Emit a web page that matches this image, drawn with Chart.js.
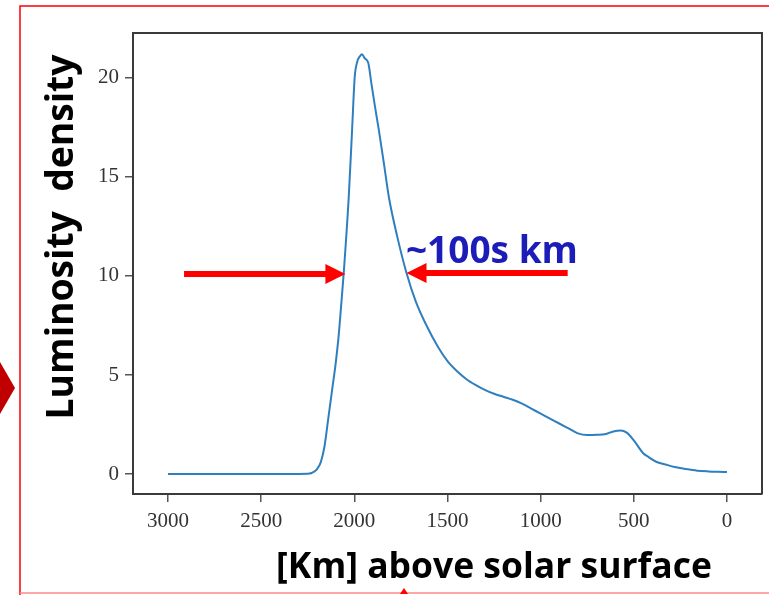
<!DOCTYPE html>
<html><head><meta charset="utf-8">
<script src="https://cdn.jsdelivr.net/npm/chart.js@4"></script>
<style>html,body{margin:0;padding:0;background:#fff}#wrap{width:769px;height:595px}</style>
</head><body><div id="wrap"><canvas id="c" width="769" height="595"></canvas></div>
<script>
// ---- data ----
const heightKm = [3000,2800,2600,2400,2300,2240,2230,2200,2180,2160,2140,2120,2100,2085,2070,2057,2030,2012,1998,1985,1970,1959,1945,1925,1909,1890,1869,1840,1815,1770,1720,1670,1618,1550,1500,1450,1400,1350,1300,1250,1200,1150,1100,1050,1000,950,900,850,800,750,700,650,610,570,540,500,450,420,380,330,280,220,160,100,50,0];
const luminosity = [0,0,0,0,0,0.02,0.05,0.25,0.6,1.4,2.8,4.2,5.6,6.9,8.6,10.15,14.0,17.4,20.05,20.8,21.1,21.2,21.0,20.75,19.75,18.6,17.4,15.6,14.0,12.0,10.15,8.7,7.6,6.4,5.7,5.2,4.8,4.5,4.25,4.05,3.9,3.75,3.55,3.3,3.05,2.8,2.55,2.3,2.05,1.97,1.98,2.02,2.15,2.2,2.1,1.7,1.05,0.85,0.62,0.48,0.35,0.25,0.17,0.13,0.11,0.1];
const xTicks = [3000,2500,2000,1500,1000,500,0];
const yTicks = [0,5,10,15,20];
const xTitle = '[Km] above solar surface';
const yTitle = 'Luminosity  density';
const note = '~100s km';
const leftArrow = {from: 2914, to: 2048, y: 10.1};
const rightArrow = {from: 855, to: 1720, y: 10.15};
const notePos = {x: 1723, y: 10.66};

function fitFont(ctx, text, width, weight, family) {
  ctx.font = weight + ' 100px ' + family;
  const w = ctx.measureText(text).width;
  return weight + ' ' + (100 * width / w).toFixed(2) + 'px ' + family;
}
function arrow(ctx, x1, x2, y, color) {
  const dir = Math.sign(x2 - x1), head = 20, hw = 10, sh = 3;
  ctx.fillStyle = color;
  ctx.beginPath();
  ctx.moveTo(x1, y - sh);
  ctx.lineTo(x2 - dir * head, y - sh);
  ctx.lineTo(x2 - dir * head, y - hw);
  ctx.lineTo(x2, y);
  ctx.lineTo(x2 - dir * head, y + hw);
  ctx.lineTo(x2 - dir * head, y + sh);
  ctx.lineTo(x1, y + sh);
  ctx.closePath();
  ctx.fill();
}

const deco = {
  id: 'deco',
  afterDraw(chart) {
    const ctx = chart.ctx, a = chart.chartArea, xs = chart.scales.x, ys = chart.scales.y;
    ctx.save();
    // frame top/right
    ctx.strokeStyle = '#3a3a3a'; ctx.lineWidth = 2;
    ctx.beginPath();
    ctx.moveTo(a.left, a.top); ctx.lineTo(a.right, a.top); ctx.lineTo(a.right, a.bottom);
    ctx.stroke();
    // arrows
    arrow(ctx, xs.getPixelForValue(leftArrow.from), xs.getPixelForValue(leftArrow.to), ys.getPixelForValue(leftArrow.y), '#ff0000');
    arrow(ctx, xs.getPixelForValue(rightArrow.from), xs.getPixelForValue(rightArrow.to), ys.getPixelForValue(rightArrow.y), '#ff0000');
    // note
    ctx.fillStyle = '#1c1cb8';
    ctx.font = fitFont(ctx, note, 172, 'bold', '"Open Sans"');
    ctx.textAlign = 'left'; ctx.textBaseline = 'alphabetic';
    ctx.fillText(note, xs.getPixelForValue(notePos.x), ys.getPixelForValue(notePos.y));
    // axis titles
    ctx.fillStyle = '#000';
    ctx.font = fitFont(ctx, xTitle, 436, 'bold', '"Open Sans"');
    ctx.textAlign = 'center';
    ctx.fillText(xTitle, 494, 578);
    ctx.save();
    ctx.translate(73, 237);
    ctx.rotate(-Math.PI / 2);
    ctx.font = fitFont(ctx, yTitle, 365, 'bold', '"Open Sans"');
    ctx.fillText(yTitle, 0, 0);
    ctx.restore();
    // red page decorations
    ctx.strokeStyle = '#ff0000'; ctx.lineWidth = 1.5;
    ctx.beginPath();
    ctx.moveTo(769, 6); ctx.lineTo(20, 6); ctx.lineTo(20, 595);
    ctx.stroke();
    ctx.strokeStyle = '#ff8a8a';
    ctx.beginPath(); ctx.moveTo(20, 593); ctx.lineTo(769, 593); ctx.stroke();
    ctx.fillStyle = '#c00000';
    ctx.beginPath(); ctx.moveTo(0, 362); ctx.lineTo(15, 388); ctx.lineTo(0, 414); ctx.closePath(); ctx.fill();
    ctx.fillStyle = '#ff0000';
    ctx.beginPath(); ctx.moveTo(400, 594); ctx.lineTo(404, 588); ctx.lineTo(408, 594); ctx.closePath(); ctx.fill();
    ctx.restore();
  }
};

const tickFont = {family: '"Liberation Serif"', size: 21};
new Chart(document.getElementById('c'), {
  type: 'line',
  data: {
    datasets: [{
      data: heightKm.map((x, i) => ({x: x, y: luminosity[i]})),
      borderColor: '#2f7fbf',
      borderWidth: 2,
      pointRadius: 0,
      fill: false,
      cubicInterpolationMode: 'monotone'
    }]
  },
  options: {
    responsive: false,
    animation: false,
    layout: {padding: {top: 33, right: 7, left: 0, bottom: 0}},
    plugins: {legend: {display: false}, tooltip: {enabled: false}},
    scales: {
      x: {
        type: 'linear', reverse: true, min: -188, max: 3188,
        afterBuildTicks: s => { s.ticks = xTicks.map(v => ({value: v})); },
        afterFit: s => { s.height = 101; },
        grid: {drawOnChartArea: false, drawTicks: true, tickLength: 8, color: '#555', lineWidth: 1.5},
        border: {display: true, color: '#3a3a3a', width: 2},
        ticks: {font: tickFont, color: '#333', padding: 7, maxRotation: 0, autoSkip: false, callback: v => String(v)}
      },
      y: {
        type: 'linear', min: -1.01, max: 22.27,
        afterBuildTicks: s => { s.ticks = yTicks.map(v => ({value: v})); },
        afterFit: s => { s.width = 133; },
        grid: {drawOnChartArea: false, drawTicks: true, tickLength: 8, color: '#555', lineWidth: 1.5},
        border: {display: true, color: '#3a3a3a', width: 2},
        ticks: {font: tickFont, color: '#333', padding: 6, autoSkip: false, callback: v => String(v)}
      }
    }
  },
  plugins: [deco]
});
</script></body></html>
